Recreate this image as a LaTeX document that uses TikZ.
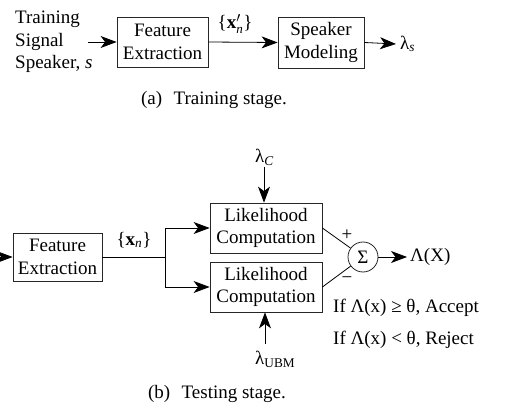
\documentclass[tikz,border=0pt]{standalone}
\usepackage{fontspec}
\setmainfont{Liberation Serif}
\usetikzlibrary{arrows.meta}
\begin{document}
\begin{tikzpicture}[x=1pt,y=-1pt,
  every node/.style={font=\fontsize{19}{22.5}\selectfont, inner sep=0pt},
  blk/.style={draw=black!85, line width=0.8pt, align=center},
  conn/.style={line width=0.8pt},
  arr/.style={conn, -{Stealth[length=16pt,width=12pt,inset=4.5pt]}}]
\useasboundingbox (0,0) rectangle (507,404);
% ---- (a) training ----
\node[align=left, anchor=west] (train) at (15,42) {Training\\Signal\\Speaker, \textit{s}};
\coordinate (tin) at (88,42);
\node[blk, minimum width=91pt, minimum height=50pt] (fe1) at (162.5,42) {Feature\\Extraction};
\node[blk, minimum width=86pt, minimum height=51pt] (sm) at (321,42.5) {Speaker\\Modeling};
\node[anchor=west] (lams) at (400,44) {λ\textsubscript{\textit{s}}};
\node (xpn) at (235,24) {\{\textbf{x}$^{\prime}_{\mbox{\fontsize{13}{13}\selectfont\textit{n}}}$\}};
\draw[arr] (tin) -- (fe1.west);
\draw[arr] (fe1.east) -- (sm.west);
\draw[arr] (sm.east) -- ([xshift=-4pt]lams.west);
\node (capa) at (214,100) {(a)\hspace{0.6em}Training stage.};
% ---- (b) testing ----
\coordinate (bin) at (0,257);
\node[blk, minimum width=89pt, minimum height=48pt] (fe2) at (57.5,257) {Feature\\Extraction};
\node[blk, minimum width=112pt, minimum height=50pt] (lc1) at (266,228) {Likelihood\\Computation};
\node[blk, minimum width=112pt, minimum height=50pt] (lc2) at (266,287) {Likelihood\\Computation};
\node[draw=black!85, line width=0.8pt, circle, minimum size=30pt] (sum) at (363,257) {Σ};
\node (xn) at (134,240) {\{\textbf{x}\textsubscript{\textit{n}}\}};
\coordinate (br) at (165,257);
\coordinate (brt) at (165,228);
\coordinate (brb) at (165,287);
\draw[arr] (bin) -- (fe2.west);
\draw[conn] (fe2.east) -- (br);
\draw[conn] (brt) -- (brb);
\draw[arr] (brt) -- (lc1.west);
\draw[arr] (brb) -- (lc2.west);
\node[anchor=west] (lamc) at (255,157) {λ\textsubscript{\textit{C}}};
\coordinate (lamcs) at (264,167);
\draw[arr] (lamcs) -- (lamcs |- lc1.north);
\node[anchor=west] (lamu) at (255,359) {λ\textsubscript{UBM}};
\coordinate (lamus) at (265,344);
\draw[arr] (lamus) -- (lamus |- lc2.south);
\draw[conn] (lc1.east) -- (sum);
\draw[conn] (lc2.east) -- (sum);
\node (plus) at (347,235) {+};
\node (minus) at (347,280) {−};
\node[anchor=west] (lamX) at (410,257) {Λ(X)};
\draw[arr] (sum.east) -- ([xshift=-3pt]lamX.west);
\node[anchor=west] (acc) at (333,308) {If Λ(x) ≥ θ, Accept};
\node[anchor=west] (rej) at (333,340) {If Λ(x) < θ, Reject};
\node (capb) at (217,394) {(b)\hspace{0.6em}Testing stage.};
\end{tikzpicture}
\end{document}
